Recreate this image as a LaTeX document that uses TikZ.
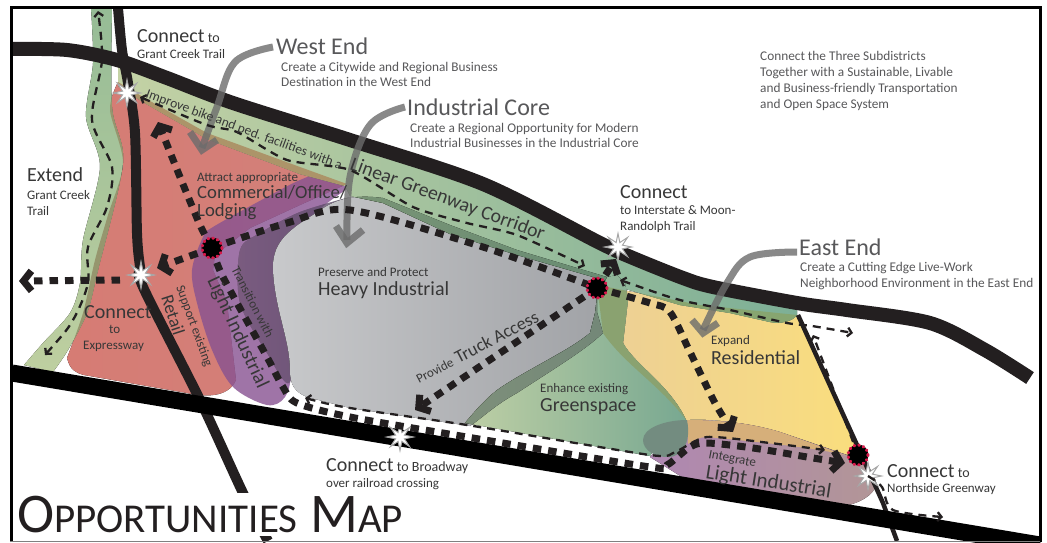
\documentclass[tikz,border=0pt]{standalone}
\usepackage{fontspec}
\setmainfont{Carlito}
\usetikzlibrary{arrows.meta,shapes.geometric}
\definecolor{inkc}{RGB}{35,31,32}
\definecolor{textc}{RGB}{55,55,55}
\definecolor{descc}{RGB}{88,88,90}
\definecolor{hubc}{RGB}{215,25,75}
\newcommand{\fs}[1]{\fontsize{#1}{#1}\selectfont}
\newcommand{\redpath}{plot[smooth,tension=.5] coordinates {(118,82) (110,110) (123,163) (108,215) (95,260) (83,313) (67,358)}
  .. controls (70,370) and (76,373) .. (84,375)
  -- (187,393) .. controls (205,397) and (228,398) .. (236,380)
  -- (227,303) -- (213,270) -- (215,255) -- (250,228) -- (300,205) -- (347,184) -- (300,167) -- (207,133) -- (143,97) -- cycle}
\newcommand{\yellowpath}{(597,285) -- (700,305) -- (797,315) -- (860,455) -- (847,455) -- (780,432)
  .. controls (750,423) and (710,418) .. (686,420)
  .. controls (660,385) and (625,365) .. (603,333) -- cycle}
\newcommand{\greypath}{(273,270) .. controls (272,245) and (285,232) .. (313,215)
  .. controls (330,203) and (345,193) .. (383,198)
  -- (450,225) -- (517,250) -- (607,277) -- (597,297) -- (597,312) -- (603,333)
  .. controls (585,350) and (560,365) .. (517,393)
  .. controls (495,405) and (482,418) .. (470,426)
  -- (350,408) -- (307,397)
  .. controls (295,392) and (290,385) .. (290,370)
  .. controls (290,340) and (275,310) .. (273,270) -- cycle}
\newcommand{\trailpath}{plot[smooth,tension=.5] coordinates {(91,8) (93,63) (86,117) (100,167) (83,240) (80,283) (70,313) (43,343) (24,365)}
  -- (53,372)
  -- plot[smooth,tension=.5] coordinates {(53,372) (68,350) (87,313) (98,270) (123,163) (112,107) (112,8)} -- cycle}
\newcommand{\waypath}{(118,60) -- (233,103) -- (350,140) -- (483,184) -- (600,243) -- (683,278) -- (797,303) -- (797,315)
  .. controls (792,322) and (780,324) .. (770,322)
  -- (730,313) -- (680,305) -- (622,288) -- (607,281) -- (517,255) -- (450,234) -- (383,203) -- (350,196)
  -- (345,186) -- (300,174) -- (207,139) -- (143,102) -- (118,86) -- cycle}
\newcommand{\spacepath}{(465,423) .. controls (480,405) and (490,395) .. (500,388)
  .. controls (530,368) and (570,350) .. (590,333)
  -- (595,313) -- (597,297) -- (607,277) -- (617,275) -- (625,283) -- (628,300) -- (623,343)
  .. controls (635,365) and (670,385) .. (686,420) -- (660,440) -- (650,456) -- cycle}
\tikzset{
  lab/.style={anchor=base west,inner sep=0pt,text=textc,font=\fs{13}},
  desc/.style={anchor=base west,inner sep=0pt,text=descc,font=\fs{13.3}},
  big/.style={anchor=base west,inner sep=0pt,text=textc,font=\fs{20}},
  head/.style={anchor=base west,inner sep=0pt,text=descc,font=\fs{24}},
  road/.style={draw=inkc,line cap=butt,line join=round},
  thick dash/.style={draw=inkc,line width=7pt,dash pattern=on 8.5pt off 7pt},
  thin dash/.style={draw=inkc,line width=2.3pt,dash pattern=on 8pt off 6pt},
  barb/.style={-{Straight Barb[length=8pt,width=20pt]}},
  sbarb/.style={-{Straight Barb[length=4pt,width=9pt]}},
  twobarb/.style={{Straight Barb[length=4pt,width=9pt]}-{Straight Barb[length=4pt,width=9pt]}},
  pointer/.style={draw=gray!85!black,line width=7pt,draw opacity=.8},
  hubcore/.style={circle,fill=black,minimum size=21pt,inner sep=0pt},
  hubring/.style={draw=hubc,line width=3pt,line cap=round,dash pattern=on .8pt off 3.95pt},
  burst/.style={star,star points=8,star point ratio=2.8,minimum size=27pt,inner sep=0pt,fill=white,draw=gray!70,line width=1pt},
}
\begin{document}
\begin{tikzpicture}[x=1pt,y=-1pt]
\useasboundingbox (0,0) rectangle (1047,542);
\fill[white] (0,0) rectangle (1047,542);
% ---------- base land-use shapes
\fill[left color={rgb,255:red,214;green,124;blue,116},right color={rgb,255:red,210;green,128;blue,122}] \redpath;
\fill[left color={rgb,255:red,236;green,207;blue,150},right color={rgb,255:red,250;green,222;blue,125}] \yellowpath;
% light industrial west (purple)
\begin{scope}[fill opacity=.8]
\fill[fill={rgb,255:red,135;green,82;blue,145}]
  plot[smooth,tension=.55] coordinates {(350,187) (320,175) (300,180) (267,197) (213,227) (203,237) (192,270) (197,303) (212,350) (233,387) (267,405) (285,397) (291,370) (287,300) (300,230) (350,187)};
\end{scope}
\fill[left color={rgb,255:red,165;green,125;blue,172},right color={rgb,255:red,130;green,105;blue,150},fill opacity=.55]
  plot[smooth,tension=.5] coordinates {(350,197) (300,212) (260,233) (240,250) (240,303) (267,353) (290,382) (300,300) (320,220) (350,197)};
% heavy industrial (grey)
\fill[left color={rgb,255:red,200;green,201;blue,203},right color={rgb,255:red,160;green,162;blue,166}] \greypath;
% light industrial east (purple)
\fill[left color={rgb,255:red,175;green,135;blue,178},right color={rgb,255:red,178;green,150;blue,150}]
  (650,457) -- (687,420) .. controls (720,420) and (750,423) .. (780,432) -- (847,455)
  .. controls (865,462) and (880,478) .. (875,488)
  .. controls (870,498) and (855,505) .. (835,508) -- (690,482) -- cycle;
\fill[fill={rgb,255:red,214;green,175;blue,122}]
  (687,420) .. controls (720,420) and (750,423) .. (780,432) -- (847,456)
  .. controls (825,449) and (770,443) .. (707,437)
  .. controls (700,437) and (694,440) .. (688,444) -- cycle;
% ---------- green shapes
\fill[top color={rgb,255:red,150;green,188;blue,150},bottom color={rgb,255:red,190;green,207;blue,160}] \trailpath;
\begin{scope}
\clip \trailpath;
\fill[fill={rgb,255:red,150;green,150;blue,110}] \redpath;
\end{scope}
\fill[left color={rgb,255:red,196;green,210;blue,165},right color={rgb,255:red,125;green,175;blue,150}] \waypath;
\begin{scope}
\clip \waypath;
\fill[fill={rgb,255:red,172;green,148;blue,105}] \redpath;
\fill[left color={rgb,255:red,125;green,150;blue,118},right color={rgb,255:red,105;green,140;blue,115}] \greypath;
\fill[fill={rgb,255:red,135;green,165;blue,112}] \yellowpath;
\end{scope}
\fill[left color={rgb,255:red,190;green,207;blue,165},right color={rgb,255:red,120;green,168;blue,145}] \spacepath;
\begin{scope}
\clip \spacepath;
\fill[left color={rgb,255:red,140;green,155;blue,125},right color={rgb,255:red,115;green,135;blue,120}] \greypath;
\fill[fill={rgb,255:red,138;green,162;blue,112}] \yellowpath;
\end{scope}
\fill[fill={rgb,255:red,115;green,140;blue,128}]
  (687,420) .. controls (665,420) and (643,428) .. (643,440)
  .. controls (643,450) and (655,458) .. (670,457)
  .. controls (680,456) and (692,445) .. (687,420) -- cycle;
% ---------- roads
\draw[road,line width=14pt]
  plot[smooth,tension=.5] coordinates {(12,49) (67,50) (117,60) (167,78) (233,103) (350,140) (483,184) (600,243) (633,258) (683,278) (713,287) (797,303) (847,310) (930,323) (985,350) (1030,378)};
\draw[road,line width=10pt]
  plot[smooth,tension=.5] coordinates {(118,8) (122,50) (128,83) (135,133) (137,233) (140,267) (143,287) (200,400) (243,493) (268,541)};
\draw[road,line width=4.5pt] (798,315) -- (857,445) -- (883,503) -- (897,541);
\draw[black,line width=17pt] (12,373) -- (1040,545);
% title backing and frame
\fill[white] (14,493) rectangle (420,536);
\fill[white] (0,0) rectangle (10,542);
\fill[white] (1042,0) rectangle (1047,542);
\fill[white] (0,0) rectangle (1047,6);
\fill[white] (0,541) rectangle (1047,542);
\draw[black,line width=3pt] (11.5,542) -- (11.5,7.5) -- (1040,7.5) -- (1040,542);
\draw[gray,line width=1.2pt] (10,541.2) -- (1040,541.2);
% ---------- pointers
\draw[pointer] plot[smooth,tension=.6] coordinates {(273,47) (235,62) (217,107) (202,148)};
\draw[pointer,line join=miter] (190,132) -- (202,150) -- (217,140);
\draw[pointer] plot[smooth,tension=.6] coordinates {(405,107) (370,125) (350,177) (347,240)};
\draw[pointer,line join=miter] (336,226) -- (347,243) -- (363,230);
\draw[pointer] plot[smooth,tension=.6] coordinates {(797,252) (750,257) (727,283) (703,330)};
\draw[pointer,line join=miter] (692,320) -- (703,333) -- (718,323);
% ---------- hubs and stars
\node[burst] (sGrant) at (127,93) {};
\node[burst] (sExpress) at (141,275) {};
\node[burst] (sBroad) at (400,437) {};
\node[burst] (sMoon) at (618,247) {};
\node[burst] (sNorth) at (868,476) {};
\coordinate (hA) at (212,248);
\coordinate (hB) at (597,288);
\coordinate (hC) at (858,455);
% ---------- thick dashed connectors
\draw[thick dash,barb] plot[smooth,tension=.4] coordinates {(hA) (200,225) (180,177) (158,122)};
\draw[thick dash] plot[smooth,tension=.5] coordinates {(hA) (287,223) (350,210) (483,247) (hB)};
\draw[thick dash,barb] (hA) -- (157,268);
\draw[thick dash,barb] (120,280) -- (19,281);
\draw[thick dash,barb] plot[smooth,tension=.5] coordinates {(hA) (223,277) (267,357) (283,387) (297,403) (350,417) (467,437) (650,467) (667,465) (690,447) (707,443) (753,448) (813,458) (845,463)};
\draw[thick dash,barb] (hB) -- (415,410);
\draw[thick dash,barb] (hB) -- (616,259);
\draw[thick dash,barb] plot[smooth,tension=.5] coordinates {(hB) (650,303) (670,312) (690,352) (715,403) (733,432)};
% ---------- thin dashed connectors
\draw[thin dash,twobarb]
  plot[smooth,tension=.5] coordinates {(45,355) (73,320) (88,283) (88,247) (107,207) (112,167) (92,120) (102,60) (98,11)};
\draw[thin dash,twobarb]
  plot[smooth,tension=.4] coordinates {(140,97) (207,125) (237,132) (287,160) (350,170) (413,207) (467,223) (517,235) (585,266)};
\draw[thin dash,twobarb]
  plot[smooth,tension=.4] coordinates {(620,280) (680,300) (730,310) (787,323) (812,326) (853,333)};
\draw[thin dash,sbarb] (hC) -- (813,335);
\draw[thin dash,sbarb] plot[smooth,tension=.5] coordinates {(sNorth) (882,487) (893,510) (943,517)};
\draw[thin dash,twobarb]
  plot[smooth,tension=.4] coordinates {(305,398) (350,408) (467,425) (650,455) (675,452) (707,437) (770,443) (825,450)};
\node[hubcore] (hubA) at (hA) {};
\node[hubcore] (hubB) at (hB) {};
\node[hubcore] (hubC) at (hC) {};
\draw[hubring] (hA) circle[radius=10];
\draw[hubring] (hB) circle[radius=10];
\draw[hubring] (hC) circle[radius=10];
% ---------- text
\node[big] at (137,42) {Connect\,{\fs{14}to}};
\node[lab] at (137,58) {Grant Creek Trail};
\node[head] at (276,54) {West End};
\node[desc] at (281,71) {Create a Citywide and Regional Business};
\node[desc] at (281,86) {Destination in the West End};
\node[head] at (407,115) {Industrial Core};
\node[desc] at (410,132) {Create a Regional Opportunity for Modern};
\node[desc] at (410,147) {Industrial Businesses in the Industrial Core};
\node[desc] at (760,60) {Connect the Three Subdistricts};
\node[desc] at (760,76) {Together with a Sustainable, Livable};
\node[desc] at (760,92) {and Business-friendly Transportation};
\node[desc] at (760,108) {and Open Space System};
\node[big] at (27,181) {Extend};
\node[lab] at (27,199) {Grant Creek};
\node[lab] at (27,215) {Trail};
\node[lab] at (197,181) {Attract appropriate};
\node[big,font=\fs{18.7}] at (197,198) {Commercial/Office/};
\node[big,font=\fs{18.7}] at (197,216) {Lodging};
\node[lab] at (318,276) {Preserve and Protect};
\node[big] at (318,295) {Heavy Industrial};
\node[big] at (620,198) {Connect};
\node[lab] at (620,214) {to Interstate \& Moon-};
\node[lab] at (620,230) {Randolph Trail};
\node[head] at (799,255) {East End};
\node[desc] at (800,271) {Create a Cutting Edge Live-Work};
\node[desc] at (800,287) {Neighborhood Environment in the East End};
\node[lab] at (711,344) {Expand};
\node[big] at (711,364) {Residential};
\node[lab] at (540,392) {Enhance existing};
\node[big] at (540,411) {Greenspace};
\node[big] at (326,471) {Connect\,{\fs{14}to Broadway}};
\node[lab] at (326,487) {over railroad crossing};
\node[big] at (887,477) {Connect\,{\fs{14}to}};
\node[lab] at (887,492) {Northside Greenway};
\node[big] at (84,318) {Connect};
\node[lab] at (109,333) {to};
\node[lab] at (83,349) {Expressway};
\node[lab,rotate=27.4] at (419,384) {Provide\,\,{\fs{18}Truck Access}};
\node[lab,rotate=-70] at (176,287) {Support existing};
\node[big,font=\fs{18},rotate=-72] at (161,297) {Retail};
\node[lab,rotate=-63] at (231,269) {Transition with};
\node[big,font=\fs{20},rotate=-65] at (207,280) {Light Industrial};
\node[lab,font=\fs{13.5},rotate=-20.4] at (145,97) {Improve bike and ped. facilities with a};
\node[big,font=\fs{19.7},rotate=-20.2] at (349,169) {Linear Greenway Corridor};
\node[lab,rotate=-11] at (708,458) {Integrate};
\node[big,font=\fs{21},rotate=-9] at (705,478) {Light Industrial};
\node[anchor=base west,inner sep=0pt,text=inkc] at (17,532)
  {\fs{56}O{\fs{41}PPORTUNITIES} M{\fs{41}AP}};
\end{tikzpicture}
\end{document}
